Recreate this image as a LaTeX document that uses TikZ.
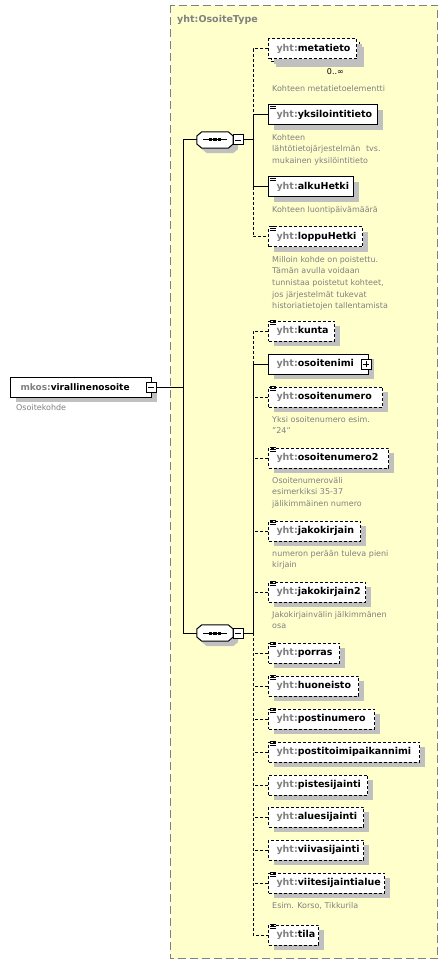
\documentclass[tikz,border=0pt]{standalone}
\usepackage{fontspec}
\setmainfont{DejaVu Sans}
\usetikzlibrary{shadows}
\definecolor{prefixgray}{RGB}{128,128,128}
\definecolor{descgray}{RGB}{128,128,128}
\definecolor{bgyel}{RGB}{255,255,204}
\definecolor{shadowgray}{RGB}{192,192,192}
\definecolor{framegray}{RGB}{128,128,128}
\newcommand\pfx[1]{\textcolor{prefixgray}{#1}}
\newcommand\elfont{\fontsize{9.5}{11}\selectfont\bfseries}
\newcommand\dsfont{\fontsize{8}{11.6}\selectfont}
\newcommand\El[5][]{\node[elem,#1] (#2) at (268,#4) {\makebox[\dimexpr#3pt-284pt\relax][l]{\pfx{yht:}#5}};}
\newcommand\Ds[3]{\node[desc] (#1) at (272,#2+17) {\rule{0pt}{8pt}#3};}
\newcommand\docicon[1]{\foreach \d in {0,2,4}{\draw[line width=.9pt] ([xshift=2pt,yshift=-\d pt]#1.north west) -- ++(6,0);}}
\newcommand\minussign[1]{\draw[line width=.9pt] ([xshift=-3pt]#1.center) -- ([xshift=3pt]#1.center);}
\newcommand\plussign[1]{\draw[line width=.9pt] ([xshift=-3pt]#1.center) -- ([xshift=3pt]#1.center) ([yshift=-3pt]#1.center) -- ([yshift=3pt]#1.center);}
\newcommand\seqshape[1]{%
  \draw[line width=1pt, fill=white, withshadow]
    ([yshift=4pt]#1.west) -- ([xshift=5pt]#1.north west) -- ([xshift=-5pt]#1.north east)
    -- ([yshift=4pt]#1.east) -- ([yshift=-4pt]#1.east) -- ([xshift=-5pt]#1.south east)
    -- ([xshift=5pt]#1.south west) -- ([yshift=-4pt]#1.west) -- cycle;
  \draw[line width=1pt] ([xshift=6pt]#1.west) -- ([xshift=-6pt]#1.east);
  \foreach \dx in {-4.5,0,4.5}{\fill ([xshift=\dx pt]#1.center) +(-1.6,-1.5) rectangle +(1.6,1.5);}
}
\tikzset{
  withshadow/.style={drop shadow={shadow xshift=5pt, shadow yshift=-5pt, fill=shadowgray, opacity=1}},
  elembase/.style={draw=black, line width=1pt, fill=white, anchor=west, inner xsep=8pt, inner ysep=0pt, minimum height=20pt, font=\elfont},
  elem/.style={elembase, withshadow},
  optbox/.style={dash pattern=on 3pt off 2pt},
  conn/.style={line width=1pt, draw=black},
  optconn/.style={conn, dash pattern=on 3pt off 2pt},
  desc/.style={anchor=north west, inner sep=0pt, align=left, font=\dsfont, text=descgray},
  pmbox/.style={draw=black, fill=white, line width=1pt, minimum size=10pt, inner sep=0pt},
  seqbox/.style={rectangle, draw=none, minimum width=36pt, minimum height=16pt, inner sep=0pt},
}
\begin{document}
\begin{tikzpicture}[x=1pt,y=-1pt]
\useasboundingbox (0,0) rectangle (447,965);
\fill[white] (0,0) rectangle (447,965);
% container
\draw[draw=framegray, line width=1pt, dash pattern=on 8pt off 4pt, fill=bgyel] (170.5,5.5) rectangle (437.5,958.5);
\node[anchor=base west, inner sep=0pt, font=\elfont, text=prefixgray] (typelabel) at (177,23) {yht:OsoiteType};

% root
\node[elem, font=\fontsize{9}{11}\selectfont\bfseries, inner xsep=10pt] (root) at (10,387) {\makebox[121pt][l]{\pfx{mkos:}virallinenosoite}};
\node[pmbox] (rm) at (151,387) {};
\minussign{rm}
\node[anchor=north west, inner sep=0pt, font=\dsfont, text=descgray] (rootdesc) at (16,402) {\rule{0pt}{8pt}Osoitekohde};

% sequences
\node[seqbox] (s1) at (215,140) {};
\seqshape{s1}
\node[pmbox] (s1m) at (238,140) {};
\node[seqbox] (s2) at (215,633) {};
\seqshape{s2}
\node[pmbox] (s2m) at (238,633) {};
\minussign{s1m}
\minussign{s2m}

% ---- sequence 1 children
\fill[shadowgray] (276,47) rectangle (364,67);
\draw[line width=1pt, optbox, fill=white] (271,42) rectangle (359,62);
\El[elembase,optbox]{meta}{356}{49}{metatieto}
\node[anchor=base east, inner sep=0pt, font=\dsfont] (metaocc) at (344,75) {0..∞};
\node[desc] (metadesc) at (272,83) {\rule{0pt}{8pt}Kohteen metatietoelementti};

\El{yk}{377}{115}{yksilointitieto}
\docicon{yk}
\Ds{ykdesc}{115}{Kohteen\\lähtötietojärjestelmän\hspace{3pt} tvs.\\mukainen yksilöintitieto}

\El{alku}{353}{187}{alkuHetki}
\docicon{alku}
\Ds{alkudesc}{187}{Kohteen luontipäivämäärä}

\El[optbox]{loppu}{362}{237}{loppuHetki}
\docicon{loppu}
\Ds{loppudesc}{237}{Milloin kohde on poistettu.\\Tämän avulla voidaan\\tunnistaa poistetut kohteet,\\jos järjestelmät tukevat\\historiatietojen tallentamista}

% ---- sequence 2 children
\El[optbox]{kunta}{334}{331}{kunta}
\docicon{kunta}

\El{onimi}{368}{364}{osoitenimi}
\node[pmbox] (onp) at (366,364) {};
\plussign{onp}

\El[optbox]{onum}{382}{397}{osoitenumero}
\docicon{onum}
\Ds{onumdesc}{397}{Yksi osoitenumero esim.\\"24"}

\El[optbox]{onumb}{388}{458}{osoitenumero2}
\docicon{onumb}
\Ds{onumbdesc}{458}{Osoitenumeroväli\\esimerkiksi 35-37\\jälikimmäinen numero}

\El[optbox]{jako}{360}{531}{jakokirjain}
\docicon{jako}
\Ds{jakodesc}{531}{numeron perään tuleva pieni\\kirjain}

\El[optbox]{jakob}{365}{592}{jakokirjain2}
\docicon{jakob}
\Ds{jakobdesc}{592}{Jakokirjainvälin jälkimmänen\\osa}

\El[optbox]{porras}{339}{653}{porras}
\docicon{porras}
\El[optbox]{huon}{358}{686}{huoneisto}
\docicon{huon}
\El[optbox]{postinum}{374}{719}{postinumero}
\docicon{postinum}
\El[optbox]{ptp}{419}{752}{postitoimipaikannimi}
\docicon{ptp}
\El[optbox]{piste}{367}{785}{pistesijainti}
\El[optbox]{alue}{363}{817}{aluesijainti}
\El[optbox]{viiva}{363}{850}{viivasijainti}
\El[optbox]{viite}{384}{883}{viitesijaintialue}
\docicon{viite}
\Ds{viitedesc}{883}{Esim. Korso, Tikkurila}
\El[optbox]{tila}{318}{935}{tila}
\docicon{tila}

% ---- connectors
\coordinate (v) at (183,387);
\coordinate (b1) at (253,140);
\coordinate (b2) at (253,633);
\draw[conn] (rm.east) -- (v);
\draw[conn] (s1.west) -- (s1.west -| v) -- (s2.west -| v) -- (s2.west);
\draw[conn] (s1m.east) -- (b1);
\draw[conn] (s2m.east) -- (b2);

\draw[optconn] (meta.west) -- (meta.west -| b1) -- (yk.west -| b1);
\draw[conn] (yk.west) -- (yk.west -| b1) -- (alku.west -| b1) -- (alku.west);
\draw[optconn] (alku.west -| b1) -- (loppu.west -| b1) -- (loppu.west);

\draw[optconn] (kunta.west) -- (kunta.west -| b2) -- (onimi.west -| b2);
\draw[conn] (onimi.west) -- (onimi.west -| b2) -- (b2);
\draw[optconn] (b2) -- (tila.west -| b2) -- (tila.west);
\foreach \n in {onum,onumb,jako,jakob,porras,huon,postinum,ptp,piste,alue,viiva,viite}{
  \draw[optconn] (\n.west) -- (\n.west -| b2);
}
\end{tikzpicture}
\end{document}
